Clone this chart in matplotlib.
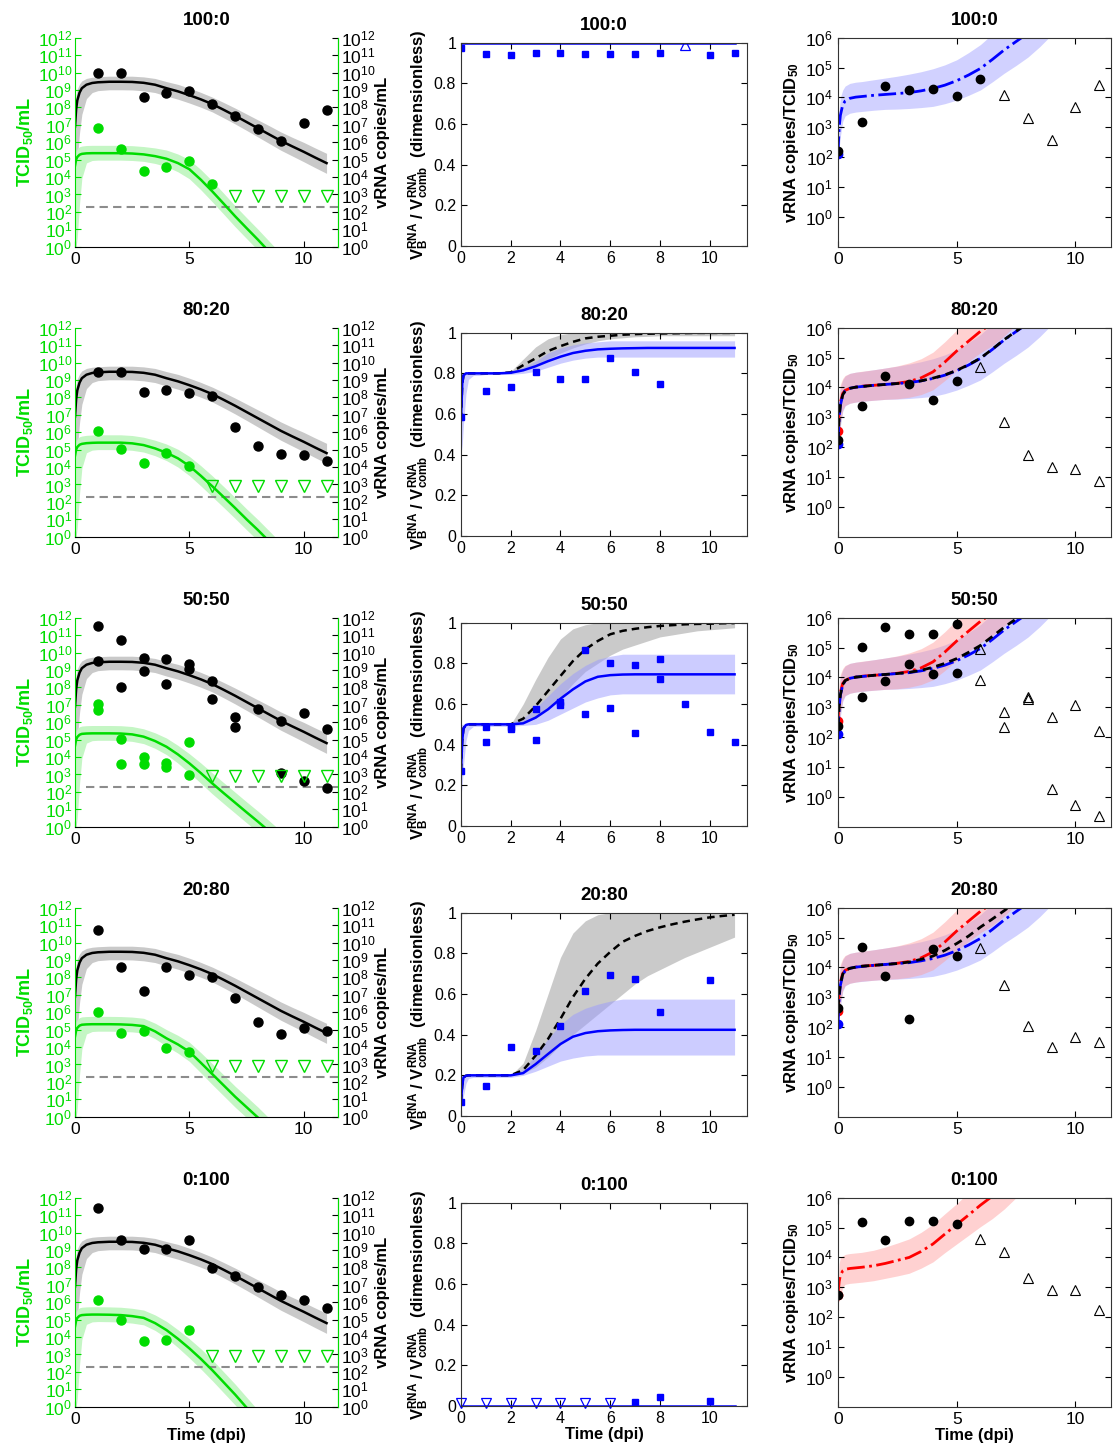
import numpy as np
import matplotlib
matplotlib.use('Agg')
import matplotlib.pyplot as plt
from matplotlib.ticker import FixedLocator, FuncFormatter, NullLocator

plt.rcParams['font.family'] = ['Liberation Sans', 'DejaVu Sans']
plt.rcParams['mathtext.fontset'] = 'custom'
plt.rcParams['mathtext.rm'] = 'Liberation Sans'
plt.rcParams['mathtext.bf'] = 'Liberation Sans:bold'
plt.rcParams['mathtext.it'] = 'Liberation Sans:italic'

GREEN = '#00dc00'
GREEN_BAND = '#c4f6c4'
GREY_BAND = '#c9c9c9'
BLUE = '#0000ff'
RED = '#ff0000'

# time grid of the model curves (dpi)
T_MODEL = [0, 0.05, 0.1, 0.2, 0.3, 0.5, 0.75, 1, 1.5, 2, 2.5, 3, 3.5, 4, 4.5, 5,
           5.5, 6, 6.5, 7, 7.5, 8, 8.5, 9, 9.5, 10, 10.5, 11]
T_FLAT = [0, 11]

# ---- left column: log10 titres -------------------------------------------
VRNA_FIT = [6.9, 7.9, 8.4, 8.85, 9.1, 9.3, 9.4, 9.44, 9.47, 9.47, 9.46, 9.41, 9.3, 9.1,
            8.92, 8.7, 8.46, 8.19, 7.86, 7.52, 7.16, 6.8, 6.44, 6.08, 5.76, 5.45, 5.12, 4.8]
VRNA_BAND_UP = [0.9, 0.8, 0.65, 0.5, 0.42, 0.36, 0.33, 0.32, 0.32, 0.32, 0.33, 0.34, 0.36, 0.38,
                0.4, 0.4, 0.4, 0.4, 0.42, 0.44, 0.46, 0.48, 0.5, 0.51, 0.52, 0.54, 0.55, 0.56]
VRNA_BAND_DN = [3.5, 3.8, 3.4, 2.3, 1.5, 0.8, 0.55, 0.48, 0.46, 0.46, 0.46, 0.46, 0.45, 0.45,
                0.45, 0.45, 0.45, 0.45, 0.46, 0.47, 0.48, 0.5, 0.52, 0.54, 0.55, 0.57, 0.58, 0.59]

TCID_FIT_100 = [4.65, 5.0, 5.15, 5.28, 5.33, 5.36, 5.37, 5.37, 5.37, 5.37, 5.35, 5.3, 5.2, 5.05,
                4.8, 4.45, 3.85, 3.18, 2.47, 1.75, 1.07, 0.4, -0.3, -1.0, -1.7, -2.4, -3.1, -3.8]
TCID_FIT_80 = [4.65, 5.0, 5.15, 5.28, 5.33, 5.37, 5.39, 5.4, 5.4, 5.4, 5.36, 5.26, 5.07, 4.82,
               4.5, 4.06, 3.5, 2.9, 2.28, 1.65, 1.0, 0.38, -0.28, -0.95, -1.6, -2.25, -2.9, -3.55]
TCID_FIT_50 = [4.65, 5.0, 5.15, 5.28, 5.33, 5.35, 5.36, 5.36, 5.36, 5.35, 5.3, 5.17, 4.92, 4.59,
               4.15, 3.64, 3.08, 2.49, 1.93, 1.38, 0.83, 0.29, -0.27, -0.85, -1.45, -2.05, -2.65, -3.25]
TCID_FIT_20 = [4.6, 4.95, 5.1, 5.23, 5.28, 5.3, 5.31, 5.31, 5.31, 5.3, 5.27, 5.2, 4.9, 4.5,
               4.15, 3.73, 3.1, 2.45, 1.8, 1.15, 0.55, -0.05, -0.7, -1.35, -2.0, -2.65, -3.3, -3.95]
TCID_FIT_0 = [4.6, 4.95, 5.1, 5.22, 5.26, 5.28, 5.29, 5.29, 5.28, 5.26, 5.2, 5.1, 4.8, 4.4,
              3.9, 3.35, 2.75, 2.1, 1.4, 0.7, -0.05, -0.8, -1.55, -2.3, -3.05, -3.8, -4.55, -5.3]
TCID_BAND_UP = [0.45, 0.5, 0.48, 0.46, 0.45, 0.45, 0.45, 0.45, 0.45, 0.45, 0.45, 0.45, 0.47, 0.5,
                0.52, 0.55, 0.58, 0.6, 0.6, 0.6, 0.6, 0.6, 0.6, 0.6, 0.6, 0.6, 0.6, 0.6]
TCID_BAND_DN = [5.0, 5.0, 4.6, 2.8, 1.4, 0.55, 0.42, 0.4, 0.4, 0.4, 0.4, 0.4, 0.42, 0.45,
                0.5, 0.55, 0.58, 0.6, 0.6, 0.6, 0.6, 0.6, 0.6, 0.6, 0.6, 0.6, 0.6, 0.6]
DETECTION_LOG = 2.3
DETECTION_FROM = 0.5
TCID_ND_LOG = 2.9

VRNA_DAYS_100 = [1, 2, 3, 4, 5, 6, 7, 8, 9, 10, 11]
VRNA_100 = [10.0, 10.0, 8.57, 8.84, 8.96, 8.19, 7.52, 6.77, 6.07, 7.12, 7.85]
TCID_DAYS_100 = [1, 2, 3, 4, 5, 6]
TCID_100 = [6.83, 5.59, 4.36, 4.59, 4.92, 3.60]
TCID_ND_100 = [7, 8, 9, 10, 11]

VRNA_DAYS_80 = [1, 2, 3, 4, 5, 6, 7, 8, 9, 10, 11]
VRNA_80 = [9.47, 9.47, 8.33, 8.42, 8.27, 8.08, 6.28, 5.21, 4.75, 4.71, 4.33]
TCID_DAYS_80 = [1, 2, 3, 4, 5]
TCID_80 = [6.07, 5.05, 4.23, 4.82, 4.06]
TCID_ND_80 = [6, 7, 8, 9, 10, 11]

VRNA_DAYS_50 = [1, 1, 2, 2, 3, 3, 4, 4, 5, 5, 6, 6, 7, 7, 8, 9, 9, 10, 10, 11, 11]
VRNA_50 = [11.54, 9.53, 10.72, 8.04, 9.67, 8.96, 9.63, 8.17, 9.34, 9.03, 8.36, 7.33,
           6.28, 5.74, 6.74, 6.07, 3.10, 6.51, 2.60, 5.63, 2.20]
TCID_DAYS_50 = [1, 1, 2, 2, 3, 3, 4, 4, 5, 5]
TCID_50 = [7.04, 6.70, 5.01, 3.60, 4.02, 3.62, 3.64, 3.44, 4.84, 2.97]
TCID_ND_50 = [6, 7, 8, 9, 10, 11]

VRNA_DAYS_20 = [1, 2, 3, 4, 5, 6, 7, 8, 9, 10, 11]
VRNA_20 = [10.72, 8.57, 7.23, 8.57, 8.13, 8.04, 6.83, 5.44, 4.75, 5.07, 4.90]
TCID_DAYS_20 = [1, 2, 3, 4, 5]
TCID_20 = [5.99, 4.82, 4.92, 3.92, 3.73]
TCID_ND_20 = [6, 7, 8, 9, 10, 11]

VRNA_DAYS_0 = [1, 2, 3, 4, 5, 6, 7, 8, 9, 10, 11]
VRNA_0 = [11.4, 9.56, 9.05, 9.05, 9.56, 7.95, 7.5, 6.87, 6.41, 6.12, 5.66]
TCID_DAYS_0 = [1, 2, 3, 4, 5]
TCID_0 = [6.12, 4.98, 3.77, 3.83, 4.40]
TCID_ND_0 = [6, 7, 8, 9, 10, 11]

# ---- middle column: fraction of strain B ---------------------------------
FRAC_FIT_100 = [1.0, 1.0]
FRAC_FIT_0 = [0.0, 0.0]

FRAC_FIT_80 = [0.57, 0.75, 0.79, 0.8, 0.8, 0.8, 0.8, 0.8, 0.8, 0.803, 0.815, 0.835, 0.86, 0.882,
               0.9, 0.911, 0.918, 0.921, 0.923, 0.924, 0.925, 0.925, 0.925, 0.925, 0.925, 0.925, 0.925, 0.925]
FRAC_ALT_80 = [0.57, 0.75, 0.79, 0.8, 0.8, 0.8, 0.8, 0.8, 0.8, 0.805, 0.84, 0.874, 0.91, 0.934,
               0.955, 0.972, 0.98, 0.985, 0.99, 0.993, 0.995, 0.996, 0.997, 0.998, 0.999, 0.999, 0.999, 0.999]
FRAC_LO_80 = [0.4, 0.45, 0.55, 0.7, 0.77, 0.79, 0.79, 0.795, 0.795, 0.795, 0.8, 0.81, 0.83, 0.85,
              0.865, 0.875, 0.88, 0.88, 0.88, 0.88, 0.88, 0.88, 0.88, 0.88, 0.88, 0.88, 0.88, 0.88]
FRAC_HI_80 = [0.8, 0.8, 0.8, 0.805, 0.805, 0.805, 0.805, 0.805, 0.805, 0.81, 0.83, 0.86, 0.9, 0.925,
              0.94, 0.95, 0.955, 0.96, 0.96, 0.96, 0.96, 0.96, 0.96, 0.96, 0.96, 0.96, 0.96, 0.96]
ALT_LO_80 = [0.57, 0.75, 0.79, 0.8, 0.8, 0.8, 0.8, 0.8, 0.8, 0.8, 0.82, 0.84, 0.87, 0.9,
             0.925, 0.945, 0.96, 0.97, 0.975, 0.98, 0.982, 0.985, 0.985, 0.985, 0.985, 0.985, 0.985, 0.985]
ALT_HI_80 = [0.57, 0.75, 0.79, 0.8, 0.8, 0.8, 0.8, 0.8, 0.8, 0.81, 0.87, 0.93, 0.97, 0.99,
             1.0, 1.0, 1.0, 1.0, 1.0, 1.0, 1.0, 1.0, 1.0, 1.0, 1.0, 1.0, 1.0, 1.0]

FRAC_FIT_50 = [0.27, 0.42, 0.48, 0.497, 0.5, 0.5, 0.5, 0.5, 0.5, 0.5, 0.505, 0.533, 0.574, 0.626,
               0.672, 0.711, 0.734, 0.742, 0.745, 0.746, 0.746, 0.746, 0.746, 0.746, 0.746, 0.746, 0.746, 0.746]
FRAC_ALT_50 = [0.27, 0.42, 0.48, 0.497, 0.5, 0.5, 0.5, 0.5, 0.5, 0.5, 0.528, 0.59, 0.664, 0.738,
               0.811, 0.869, 0.91, 0.943, 0.96, 0.97, 0.978, 0.984, 0.988, 0.992, 0.994, 0.995, 0.997, 0.998]
FRAC_LO_50 = [0.15, 0.2, 0.3, 0.42, 0.47, 0.49, 0.49, 0.49, 0.49, 0.49, 0.495, 0.5, 0.52, 0.55,
              0.58, 0.61, 0.63, 0.645, 0.65, 0.65, 0.65, 0.65, 0.65, 0.65, 0.65, 0.65, 0.65, 0.65]
FRAC_HI_50 = [0.5, 0.5, 0.5, 0.505, 0.51, 0.51, 0.51, 0.51, 0.51, 0.51, 0.53, 0.58, 0.64, 0.7,
              0.75, 0.79, 0.82, 0.835, 0.845, 0.845, 0.845, 0.845, 0.845, 0.845, 0.845, 0.845, 0.845, 0.845]
ALT_LO_50 = [0.27, 0.42, 0.48, 0.497, 0.5, 0.5, 0.5, 0.5, 0.5, 0.5, 0.51, 0.53, 0.58, 0.63,
             0.7, 0.76, 0.8, 0.84, 0.87, 0.89, 0.91, 0.93, 0.94, 0.95, 0.96, 0.965, 0.97, 0.975]
ALT_HI_50 = [0.27, 0.42, 0.48, 0.497, 0.5, 0.5, 0.5, 0.5, 0.5, 0.5, 0.6, 0.72, 0.83, 0.92,
             0.97, 0.99, 1.0, 1.0, 1.0, 1.0, 1.0, 1.0, 1.0, 1.0, 1.0, 1.0, 1.0, 1.0]

FRAC_FIT_20 = [0.07, 0.15, 0.19, 0.198, 0.2, 0.2, 0.2, 0.2, 0.2, 0.2, 0.211, 0.255, 0.305, 0.354,
               0.39, 0.408, 0.417, 0.421, 0.423, 0.424, 0.424, 0.424, 0.424, 0.424, 0.424, 0.424, 0.424, 0.424]
FRAC_ALT_20 = [0.07, 0.15, 0.19, 0.198, 0.2, 0.2, 0.2, 0.2, 0.2, 0.2, 0.226, 0.297, 0.379, 0.478,
               0.585, 0.675, 0.75, 0.807, 0.857, 0.886, 0.91, 0.928, 0.943, 0.956, 0.967, 0.977, 0.984, 0.99]
FRAC_LO_20 = [0.04, 0.06, 0.1, 0.16, 0.185, 0.19, 0.19, 0.19, 0.19, 0.19, 0.2, 0.22, 0.245, 0.27,
              0.285, 0.295, 0.3, 0.3, 0.3, 0.3, 0.3, 0.3, 0.3, 0.3, 0.3, 0.3, 0.3, 0.3]
FRAC_HI_20 = [0.2, 0.2, 0.2, 0.205, 0.205, 0.205, 0.205, 0.205, 0.205, 0.205, 0.23, 0.3, 0.38, 0.45,
              0.5, 0.53, 0.55, 0.565, 0.575, 0.575, 0.575, 0.575, 0.575, 0.575, 0.575, 0.575, 0.575, 0.575]
ALT_LO_20 = [0.07, 0.15, 0.19, 0.198, 0.2, 0.2, 0.2, 0.2, 0.2, 0.2, 0.21, 0.24, 0.29, 0.35,
             0.4, 0.45, 0.5, 0.55, 0.6, 0.65, 0.69, 0.72, 0.75, 0.78, 0.805, 0.83, 0.855, 0.88]
ALT_HI_20 = [0.07, 0.15, 0.19, 0.198, 0.2, 0.2, 0.2, 0.2, 0.2, 0.2, 0.26, 0.42, 0.6, 0.78,
             0.9, 0.96, 0.99, 1.0, 1.0, 1.0, 1.0, 1.0, 1.0, 1.0, 1.0, 1.0, 1.0, 1.0]

FRAC_DAYS_100 = [0, 1, 2, 3, 4, 5, 6, 7, 8, 10, 11]
FRAC_100 = [0.972, 0.944, 0.941, 0.951, 0.951, 0.946, 0.946, 0.946, 0.949, 0.939, 0.948]
FRAC_CAP_DAYS_100 = [9]
FRAC_CAP_100 = [0.989]

FRAC_DAYS_80 = [0, 1, 2, 3, 4, 5, 6, 7, 8]
FRAC_80 = [0.584, 0.711, 0.732, 0.807, 0.770, 0.771, 0.878, 0.807, 0.746]

FRAC_DAYS_50 = [0, 1, 1, 2, 2, 3, 3, 4, 4, 5, 5, 6, 6, 7, 7, 8, 8, 9, 10, 11]
FRAC_50 = [0.27, 0.489, 0.413, 0.487, 0.475, 0.574, 0.425, 0.61, 0.593, 0.866, 0.551,
           0.803, 0.579, 0.79, 0.456, 0.82, 0.725, 0.60, 0.462, 0.415]

FRAC_DAYS_20 = [0, 1, 2, 3, 4, 5, 6, 7, 8, 10]
FRAC_20 = [0.071, 0.147, 0.341, 0.321, 0.443, 0.613, 0.695, 0.675, 0.514, 0.669]

FRAC_DAYS_0 = [7, 8, 10]
FRAC_0 = [0.02, 0.045, 0.025]
FRAC_ND_DAYS_0 = [0, 1, 2, 3, 4, 5, 6]
FRAC_ND_0 = [0.015, 0.015, 0.015, 0.015, 0.015, 0.015, 0.015]

# ---- right column: log10 vRNA copies per TCID50 ---------------------------
PER_WT = [2.1, 3.0, 3.4, 3.75, 3.88, 3.97, 4.01, 4.03, 4.07, 4.1, 4.13, 4.16, 4.22, 4.3,
          4.41, 4.56, 4.75, 4.97, 5.27, 5.59, 5.87, 6.15, 6.5, 6.9, 7.3, 7.7, 8.1, 8.5]
PER_MUT = [2.55, 3.2, 3.5, 3.8, 3.9, 3.97, 4.01, 4.04, 4.07, 4.1, 4.14, 4.2, 4.32, 4.52,
           4.85, 5.22, 5.55, 5.88, 6.15, 6.5, 6.9, 7.3, 7.7, 8.1, 8.5, 8.9, 9.3, 9.7]
PER_MUT_0 = [2.75, 3.2, 3.4, 3.55, 3.6, 3.63, 3.65, 3.67, 3.72, 3.8, 3.9, 4.0, 4.2, 4.45,
             4.78, 5.1, 5.42, 5.75, 6.05, 6.4, 6.8, 7.2, 7.6, 8.0, 8.4, 8.8, 9.2, 9.6]
PER_MIX_80 = [2.23, 3.0, 3.4, 3.75, 3.88, 3.97, 4.01, 4.03, 4.07, 4.1, 4.13, 4.16, 4.22, 4.31,
              4.42, 4.57, 4.76, 4.98, 5.28, 5.6, 5.88, 6.16, 6.5, 6.9, 7.3, 7.7, 8.1, 8.5]
PER_MIX_50 = [2.38, 3.05, 3.42, 3.76, 3.89, 3.97, 4.01, 4.03, 4.07, 4.1, 4.13, 4.17, 4.24, 4.34,
              4.47, 4.63, 4.84, 5.07, 5.37, 5.68, 5.96, 6.25, 6.6, 7.0, 7.4, 7.8, 8.2, 8.6]
PER_MIX_20 = [2.63, 3.1, 3.45, 3.77, 3.9, 3.97, 4.01, 4.04, 4.07, 4.1, 4.13, 4.18, 4.27, 4.38,
              4.57, 4.8, 5.05, 5.35, 5.62, 5.9, 6.2, 6.5, 6.9, 7.3, 7.7, 8.1, 8.5, 8.9]
PER_BAND_UP = [0.2, 0.6, 0.6, 0.5, 0.5, 0.5, 0.5, 0.5, 0.52, 0.55, 0.58, 0.62, 0.64, 0.66,
               0.68, 0.7, 0.75, 0.8, 0.85, 0.85, 0.85, 0.85, 0.85, 0.85, 0.85, 0.85, 0.85, 0.85]
PER_BAND_DN = [0.15, 0.7, 0.7, 0.55, 0.5, 0.5, 0.5, 0.5, 0.5, 0.5, 0.52, 0.53, 0.56, 0.6,
               0.62, 0.65, 0.68, 0.72, 0.75, 0.78, 0.8, 0.8, 0.8, 0.8, 0.8, 0.8, 0.8, 0.8]

PER_DAYS_100 = [0, 1, 2, 3, 4, 5, 6]
PER_100 = [2.2, 3.16, 4.39, 4.25, 4.27, 4.04, 4.63]
PER_ND_DAYS_100 = [7, 8, 9, 10, 11]
PER_ND_100 = [4.08, 3.32, 2.59, 3.69, 4.41]

PER_DAYS_80 = [0, 1, 2, 3, 4, 5]
PER_80 = [2.23, 3.39, 4.38, 4.10, 3.58, 4.22]
PER_ND_DAYS_80 = [6, 7, 8, 9, 10, 11]
PER_ND_80 = [4.67, 2.85, 1.73, 1.32, 1.26, 0.88]

PER_DAYS_50 = [0, 1, 1, 2, 2, 3, 3, 4, 4, 5, 5]
PER_50 = [2.38, 5.03, 3.33, 5.68, 3.88, 5.47, 4.44, 5.44, 4.13, 5.78, 4.16]
PER_ND_DAYS_50 = [6, 6, 7, 7, 8, 8, 9, 9, 10, 10, 11, 11]
PER_ND_50 = [4.95, 3.93, 2.85, 2.35, 3.33, 3.27, 2.68, 0.26, 3.09, -0.26, 2.21, -0.65]

PER_DAYS_20 = [0, 1, 2, 3, 4, 5]
PER_20 = [2.63, 4.69, 3.71, 2.27, 4.61, 4.38]
PER_ND_DAYS_20 = [6, 7, 8, 9, 10, 11]
PER_ND_20 = [4.66, 3.41, 2.03, 1.34, 1.68, 1.51]

PER_DAYS_0 = [0, 1, 2, 3, 4, 5]
PER_0 = [2.75, 5.19, 4.59, 5.22, 5.22, 5.12]
PER_ND_DAYS_0 = [6, 7, 8, 9, 10, 11]
PER_ND_0 = [4.62, 4.18, 3.32, 2.92, 2.92, 2.25]

ROWS = [
    dict(title='100:0', tcid_fit=TCID_FIT_100,
         vrna=(VRNA_DAYS_100, VRNA_100), tcid=(TCID_DAYS_100, TCID_100), tcid_nd=TCID_ND_100,
         frac_line=(T_FLAT, FRAC_FIT_100), frac_bands=None,
         frac=(FRAC_DAYS_100, FRAC_100), frac_up=(FRAC_CAP_DAYS_100, FRAC_CAP_100), frac_nd=None,
         wt=PER_WT, mix=None, mut=None,
         per=(PER_DAYS_100, PER_100), per_nd=(PER_ND_DAYS_100, PER_ND_100)),
    dict(title='80:20', tcid_fit=TCID_FIT_80,
         vrna=(VRNA_DAYS_80, VRNA_80), tcid=(TCID_DAYS_80, TCID_80), tcid_nd=TCID_ND_80,
         frac_line=(T_MODEL, FRAC_FIT_80),
         frac_bands=(FRAC_ALT_80, ALT_LO_80, ALT_HI_80, FRAC_LO_80, FRAC_HI_80),
         frac=(FRAC_DAYS_80, FRAC_80), frac_up=None, frac_nd=None,
         wt=PER_WT, mix=PER_MIX_80, mut=PER_MUT,
         per=(PER_DAYS_80, PER_80), per_nd=(PER_ND_DAYS_80, PER_ND_80)),
    dict(title='50:50', tcid_fit=TCID_FIT_50,
         vrna=(VRNA_DAYS_50, VRNA_50), tcid=(TCID_DAYS_50, TCID_50), tcid_nd=TCID_ND_50,
         frac_line=(T_MODEL, FRAC_FIT_50),
         frac_bands=(FRAC_ALT_50, ALT_LO_50, ALT_HI_50, FRAC_LO_50, FRAC_HI_50),
         frac=(FRAC_DAYS_50, FRAC_50), frac_up=None, frac_nd=None,
         wt=PER_WT, mix=PER_MIX_50, mut=PER_MUT,
         per=(PER_DAYS_50, PER_50), per_nd=(PER_ND_DAYS_50, PER_ND_50)),
    dict(title='20:80', tcid_fit=TCID_FIT_20,
         vrna=(VRNA_DAYS_20, VRNA_20), tcid=(TCID_DAYS_20, TCID_20), tcid_nd=TCID_ND_20,
         frac_line=(T_MODEL, FRAC_FIT_20),
         frac_bands=(FRAC_ALT_20, ALT_LO_20, ALT_HI_20, FRAC_LO_20, FRAC_HI_20),
         frac=(FRAC_DAYS_20, FRAC_20), frac_up=None, frac_nd=None,
         wt=PER_WT, mix=PER_MIX_20, mut=PER_MUT,
         per=(PER_DAYS_20, PER_20), per_nd=(PER_ND_DAYS_20, PER_ND_20)),
    dict(title='0:100', tcid_fit=TCID_FIT_0,
         vrna=(VRNA_DAYS_0, VRNA_0), tcid=(TCID_DAYS_0, TCID_0), tcid_nd=TCID_ND_0,
         frac_line=(T_FLAT, FRAC_FIT_0), frac_bands=None,
         frac=(FRAC_DAYS_0, FRAC_0), frac_up=None, frac_nd=(FRAC_ND_DAYS_0, FRAC_ND_0),
         wt=None, mix=None, mut=PER_MUT_0,
         per=(PER_DAYS_0, PER_0), per_nd=(PER_ND_DAYS_0, PER_ND_0)),
]

LOG_TICK_FS = 12.5
LIN_TICK_FS = 11.5
LABEL_FS = 12
TITLE_FS = 13.5
XMAX = 11.5


def p10(v):
    return 10.0 ** np.asarray(v, dtype=float)


def log_ticks(ax, lo, hi, first, last, color):
    ax.set_yscale('log')
    ax.set_ylim(10.0 ** lo, 10.0 ** hi)
    ax.yaxis.set_major_locator(FixedLocator([10.0 ** k for k in range(first, last + 1)]))
    ax.yaxis.set_major_formatter(FuncFormatter(lambda v, pos: r'$10^{%d}$' % round(np.log10(v))))
    ax.yaxis.set_minor_locator(NullLocator())
    ax.tick_params(axis='y', colors=color, labelsize=LOG_TICK_FS, direction='in', length=4)


def draw_titers(ax, row):
    t = np.array(T_MODEL)
    vr = np.array(VRNA_FIT)
    tc = np.array(row['tcid_fit'])
    ax.fill_between(t, p10(vr - np.array(VRNA_BAND_DN)), p10(vr + np.array(VRNA_BAND_UP)),
                    color=GREY_BAND, lw=0)
    ax.fill_between(t, p10(tc - np.array(TCID_BAND_DN)), p10(tc + np.array(TCID_BAND_UP)),
                    color=GREEN_BAND, lw=0)
    ax.hlines(10.0 ** DETECTION_LOG, DETECTION_FROM, XMAX, colors='#8c8c8c',
              linestyles=(0, (4, 2.5)), lw=1.5)
    ax.plot(t, p10(vr), color='k', lw=1.8)
    ax.plot(t, p10(tc), color=GREEN, lw=1.8)
    d, v = row['vrna']
    ax.plot(d, p10(v), 'o', color='k', ms=6.5, ls='none')
    d, v = row['tcid']
    ax.plot(d, p10(v), 'o', color=GREEN, ms=6.5, ls='none')
    nd = row['tcid_nd']
    ax.plot(nd, p10([TCID_ND_LOG] * len(nd)), 'v', mfc='none', mec=GREEN, mew=1.0, ms=8, ls='none')

    ax.set_xlim(0, XMAX)
    log_ticks(ax, 0, 12, 0, 12, GREEN)
    ax.tick_params(axis='y', pad=2)
    ax.set_xticks([0, 5, 10])
    ax.tick_params(axis='x', labelsize=LOG_TICK_FS, direction='in', length=4)
    ax.spines['top'].set_visible(False)
    ax.spines['left'].set_color(GREEN)
    ax.spines['right'].set_color(GREEN)
    ax.set_ylabel(r'TCID$_\mathbf{50}$/mL', color=GREEN, fontsize=13,
                  fontweight='bold', labelpad=2)

    tw = ax.twinx()
    log_ticks(tw, 0, 12, 0, 12, 'k')
    tw.tick_params(axis='y', pad=2)
    for side in ('top', 'left', 'bottom'):
        tw.spines[side].set_visible(False)
    tw.spines['right'].set_color(GREEN)
    tw.set_ylabel('vRNA copies/mL', fontsize=LABEL_FS, fontweight='bold', labelpad=0)


def draw_fraction(ax, row):
    t = np.array(T_MODEL)
    if row['frac_bands'] is not None:
        alt, alo, ahi, flo, fhi = row['frac_bands']
        ax.fill_between(t, alo, ahi, color='#a8a8a8', alpha=0.6, lw=0)
        ax.fill_between(t, flo, fhi, color='#9a9aff', alpha=0.5, lw=0)
        ax.plot(t, alt, color='k', lw=1.8, ls=(0, (3, 2)))
    ft, fv = row['frac_line']
    ax.plot(ft, fv, color=BLUE, lw=1.8)
    d, v = row['frac']
    ax.plot(d, v, 's', color=BLUE, ms=4.5, ls='none')
    if row['frac_up'] is not None:
        d, v = row['frac_up']
        ax.plot(d, v, '^', mfc='none', mec=BLUE, mew=0.9, ms=7, ls='none')
    if row['frac_nd'] is not None:
        d, v = row['frac_nd']
        ax.plot(d, v, 'v', mfc='none', mec=BLUE, mew=0.9, ms=7, ls='none', clip_on=False)

    ax.set_xlim(0, XMAX)
    ax.set_ylim(0, 1)
    ax.set_xticks([0, 2, 4, 6, 8, 10])
    ax.set_yticks([0, 0.2, 0.4, 0.6, 0.8, 1])
    ax.set_yticklabels(['0', '0.2', '0.4', '0.6', '0.8', '1'])
    ax.tick_params(labelsize=LIN_TICK_FS, direction='in', length=4, top=True, right=True)
    for sp in ax.spines.values():
        sp.set_color('#333333')
        sp.set_linewidth(0.8)
    ax.set_ylabel(r'$\mathbf{V_B^{RNA}}$ / $\mathbf{V_{comb}^{RNA}}$  (dimensionless)',
                  fontsize=LABEL_FS, fontweight='bold', labelpad=2)


def draw_ratio(ax, row):
    t = np.array(T_MODEL)
    up = np.array(PER_BAND_UP)
    dn = np.array(PER_BAND_DN)
    if row['wt'] is not None:
        wt = np.array(row['wt'])
        ax.fill_between(t, p10(wt - dn), p10(wt + up), color='#9a9aff', alpha=0.45, lw=0)
    if row['mut'] is not None:
        mut = np.array(row['mut'])
        ax.fill_between(t, p10(mut - dn), p10(mut + up), color='#ff9a9a', alpha=0.45, lw=0)
    if row['mut'] is not None:
        ax.plot(t, p10(mut), color=RED, lw=2, ls='-.', marker='o', markevery=[0], ms=6)
    if row['wt'] is not None:
        ax.plot(t, p10(wt), color=BLUE, lw=2, ls='-.', marker='o', markevery=[0], ms=6)
    if row['mix'] is not None:
        ax.plot(t, p10(row['mix']), color='k', lw=2, ls=(0, (3, 2)))
    d, v = row['per']
    ax.plot(d, p10(v), 'o', color='k', ms=6, ls='none')
    d, v = row['per_nd']
    ax.plot(d, p10(v), '^', mfc='none', mec='k', mew=0.8, ms=7, ls='none')

    ax.set_xlim(0, XMAX)
    log_ticks(ax, -1, 6, 0, 6, 'k')
    ax.set_xticks([0, 5, 10])
    ax.tick_params(axis='x', labelsize=LOG_TICK_FS)
    ax.tick_params(direction='in', length=4, top=True, right=True)
    for sp in ax.spines.values():
        sp.set_color('#333333')
        sp.set_linewidth(0.8)
    ax.set_ylabel(r'vRNA copies/TCID$_\mathbf{50}$', fontsize=LABEL_FS,
                  fontweight='bold', labelpad=3)


W, H = 1117.0, 1452.0


def frame(x0, x1, top, bottom):
    return [x0 / W, 1 - bottom / H, (x1 - x0) / W, (bottom - top) / H]


fig = plt.figure(figsize=(11.17, 14.52), dpi=100)

for i, row in enumerate(ROWS):
    off = 290 * i
    ax_l = fig.add_axes(frame(75, 338, 37.7 + off, 246.7 + off))
    ax_m = fig.add_axes(frame(461, 747, 42.7 + off, 246 + off))
    ax_r = fig.add_axes(frame(838, 1111, 37.7 + off, 246.7 + off))
    draw_titers(ax_l, row)
    draw_fraction(ax_m, row)
    draw_ratio(ax_r, row)
    for ax in (ax_l, ax_m, ax_r):
        ax.set_title(row['title'], fontsize=TITLE_FS, fontweight='bold', pad=9)
        if i == len(ROWS) - 1:
            ax.set_xlabel('Time (dpi)', fontsize=LABEL_FS, fontweight='bold', labelpad=1)

fig.savefig('out.png', dpi=100)
